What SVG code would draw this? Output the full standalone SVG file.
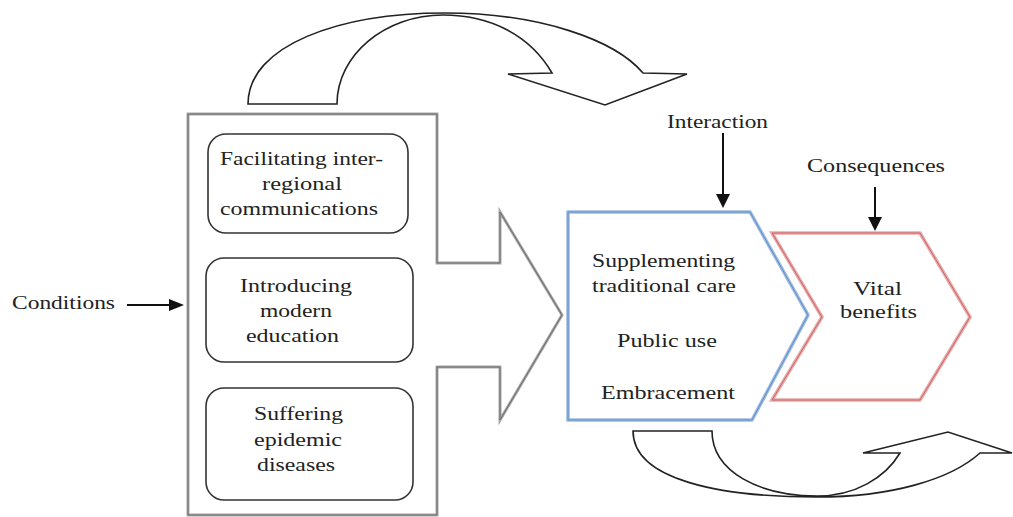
<svg xmlns="http://www.w3.org/2000/svg" xmlns:xlink="http://www.w3.org/1999/xlink" width="1013" height="517" viewBox="0 0 1013 517">
<style>
text{font-family:"Liberation Serif","DejaVu Serif",serif;font-size:18px;fill:#222}
.blk{fill:#fff;stroke:#222;stroke-width:1.6;stroke-linejoin:miter}
.rbox{fill:#fff;stroke:#333;stroke-width:1.6}
.ln{stroke:#111;stroke-width:2;fill:none}
.hd{fill:#111}
</style>
<defs>
<path id="gpath" d="M188,114 L437,114 L437,263 L500,263 L500,212 L562,315 L500,420 L500,367 L437,367 L437,515 L188,515 Z"/>
<path id="bpath" d="M568,212 L750,212 L808,315 L752,420 L568,420 Z"/>
<path id="rpath" d="M772,233 L920,233 L970,317 L920,400 L772,400 L822,317 Z"/>
</defs>
<rect width="1013" height="517" fill="#fff"/>

<g id="conditions-node">
<use xlink:href="#gpath" fill="#fff" stroke="#a8a8a8" stroke-width="3"/>
<use xlink:href="#gpath" fill="none" stroke="#6a6a6a" stroke-width="1"/>
</g>

<g id="facilitating">
<rect class="rbox" x="208" y="134" width="200" height="99" rx="18"/>
<text x="220" y="165" textLength="163" lengthAdjust="spacingAndGlyphs">Facilitating inter-</text>
<text x="262" y="190" textLength="80" lengthAdjust="spacingAndGlyphs">regional</text>
<text x="220" y="215" textLength="158" lengthAdjust="spacingAndGlyphs">communications</text>
</g>
<g id="introducing">
<rect class="rbox" x="206" y="258" width="207" height="104" rx="18"/>
<text x="240" y="292" textLength="112" lengthAdjust="spacingAndGlyphs">Introducing</text>
<text x="260" y="317" textLength="72" lengthAdjust="spacingAndGlyphs">modern</text>
<text x="246" y="342" textLength="93" lengthAdjust="spacingAndGlyphs">education</text>
</g>
<g id="suffering">
<rect class="rbox" x="206" y="388" width="207" height="112" rx="18"/>
<text x="254" y="420" textLength="89" lengthAdjust="spacingAndGlyphs">Suffering</text>
<text x="254" y="446" textLength="88" lengthAdjust="spacingAndGlyphs">epidemic</text>
<text x="257" y="471" textLength="78" lengthAdjust="spacingAndGlyphs">diseases</text>
</g>

<g id="interaction-node">
<use xlink:href="#bpath" fill="#fff" stroke="#9dbbe0" stroke-width="3.5"/>
<use xlink:href="#bpath" fill="none" stroke="#5f8cc6" stroke-width="1"/>
<text x="592" y="267" textLength="143" lengthAdjust="spacingAndGlyphs">Supplementing</text>
<text x="592" y="292" textLength="144" lengthAdjust="spacingAndGlyphs">traditional care</text>
<text x="617" y="347" textLength="100" lengthAdjust="spacingAndGlyphs">Public use</text>
<text x="601" y="399" textLength="134" lengthAdjust="spacingAndGlyphs">Embracement</text>
</g>

<g id="consequences-node">
<use xlink:href="#rpath" fill="#fff" stroke="#e8aaaa" stroke-width="3.5"/>
<use xlink:href="#rpath" fill="none" stroke="#cc6464" stroke-width="1"/>
<text x="853" y="295" textLength="49" lengthAdjust="spacingAndGlyphs">Vital</text>
<text x="840" y="318" textLength="77" lengthAdjust="spacingAndGlyphs">benefits</text>
</g>

<g id="labels">
<text x="12" y="309" textLength="103" lengthAdjust="spacingAndGlyphs">Conditions</text>
<text x="667" y="128" textLength="101" lengthAdjust="spacingAndGlyphs">Interaction</text>
<text x="807" y="172" textLength="138" lengthAdjust="spacingAndGlyphs">Consequences</text>
</g>

<g id="connectors">
<path class="blk" d="M248,104 C248,45 340,13 445,13 C540,13 615,40 643,73 L687,74 L605,105 L508,74 L552,73 C530,35 490,15 443,15 C385,15 337,55 337,104 Z"/>
<path class="blk" d="M633,431 C633,480 720,497 817,497 C890,497 950,480 980,453 L1012,453 L948,432 L863,453 L900,453 C885,478 855,496 817,496 C760,496 712,472 712,431 Z"/>
<line class="ln" x1="127" y1="305" x2="171" y2="305"/>
<polygon class="hd" points="169,299 184,305 169,311"/>
<line class="ln" x1="723" y1="133" x2="723" y2="196"/>
<polygon class="hd" points="716,194 730,194 723,208"/>
<line class="ln" x1="875" y1="187" x2="875" y2="219"/>
<polygon class="hd" points="868,217 882,217 875,231"/>
</g>
</svg>
